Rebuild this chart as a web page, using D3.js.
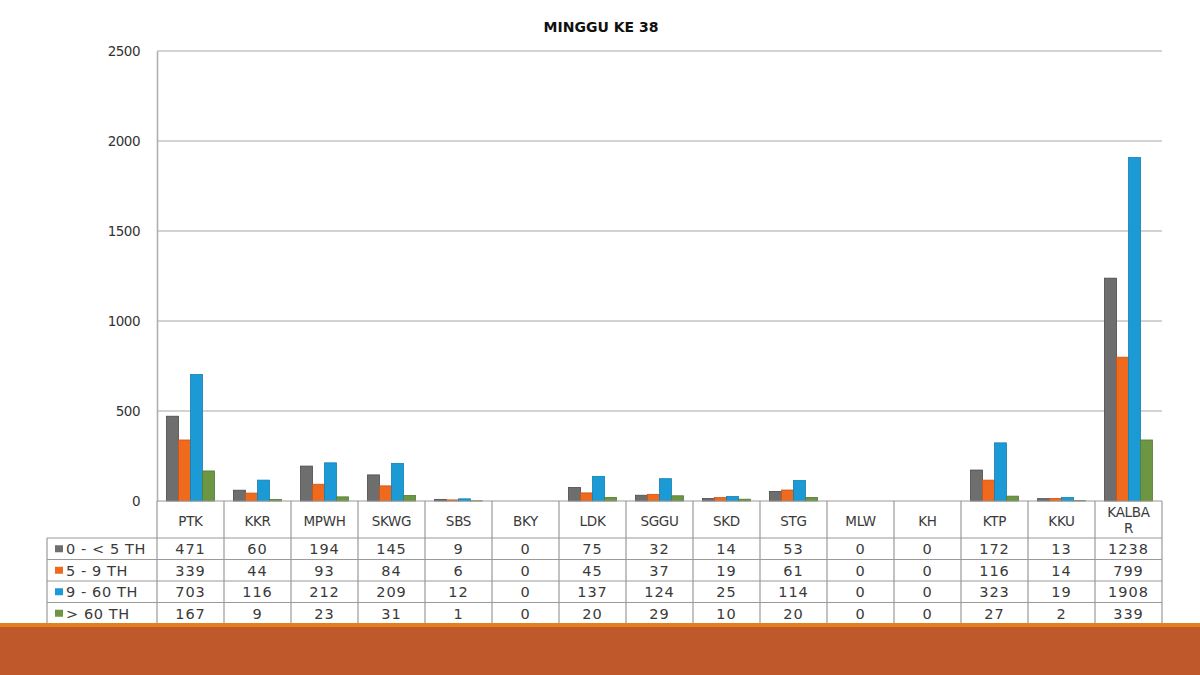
<!DOCTYPE html>
<html>
<head>
<meta charset="utf-8">
<script src="https://cdn.jsdelivr.net/npm/d3@7"></script>
<style>
  body { margin: 0; background: #fff; }
  svg { display: block; }
</style>
</head>
<body>
<svg id="chart"></svg>
<script>
// data
const categories = ["PTK", "KKR", "MPWH", "SKWG", "SBS", "BKY", "LDK", "SGGU", "SKD", "STG", "MLW", "KH", "KTP", "KKU", "KALBAR"];
const seriesNames = ["0 - < 5 TH", "5 - 9 TH", "9 - 60 TH", "> 60 TH"];
const age0to5  = [471, 60, 194, 145, 9, 0, 75, 32, 14, 53, 0, 0, 172, 13, 1238];
const age5to9  = [339, 44, 93, 84, 6, 0, 45, 37, 19, 61, 0, 0, 116, 14, 799];
const age9to60 = [703, 116, 212, 209, 12, 0, 137, 124, 25, 114, 0, 0, 323, 19, 1908];
const age60up  = [167, 9, 23, 31, 1, 0, 20, 29, 10, 20, 0, 0, 27, 2, 339];
const yTicks = [0, 500, 1000, 1500, 2000, 2500];

const seriesValues = [age0to5, age5to9, age9to60, age60up];
const colors = ["#6e6e6e", "#f06a1e", "#1b9ad6", "#6c9643"];
const strokes = ["#4a4a4a", "#c9551a", "#157fb0", "#557a33"];

const W = 1200, H = 675;
const plotLeft = 157, plotRight = 1162, plotTop = 51, plotBottom = 501;
const legendLeft = 47;
const catRowH = 37, rowH = 21.5;

const svg = d3.select("#chart").attr("width", W).attr("height", H);
const font = "'DejaVu Sans', sans-serif";

//scales
const x0 = d3.scaleBand().domain(categories).range([plotLeft, plotRight]).padding(0);
const x1 = d3.scaleBand().domain(seriesNames).range([0, x0.bandwidth()])
  .paddingInner(0).paddingOuter(0.79);
const y = d3.scaleLinear().domain([0, 2500]).range([plotBottom, plotTop]);

// title
svg.append("text")
  .attr("x", 601).attr("y", 32)
  .attr("text-anchor", "middle")
  .attr("font-family", font).attr("font-size", 14).attr("font-weight", "bold")
  .attr("fill", "#111")
  .text("MINGGU KE 38");

// gridlines
svg.append("g")
  .selectAll("line")
  .data(yTicks.filter(d => d > 0))
  .join("line")
  .attr("x1", plotLeft).attr("x2", plotRight)
  .attr("y1", d => y(d)).attr("y2", d => y(d))
  .attr("stroke", "#c4c4c4").attr("stroke-width", 1.6);

// y axis
const yAxis = svg.append("g")
  .attr("transform", `translate(${plotLeft},0)`)
  .call(d3.axisLeft(y).tickValues(yTicks).tickFormat(d3.format("d"))
    .tickSize(0).tickPadding(17));
yAxis.select(".domain").attr("stroke", "#b0b0b0").attr("stroke-width", 1.6);
yAxis.selectAll("text")
  .attr("font-family", font).attr("font-size", 13.5).attr("fill", "#333")
  .attr("letter-spacing", "-0.5px");

// bars
const groups = svg.append("g")
  .selectAll("g")
  .data(categories)
  .join("g")
  .attr("transform", d => `translate(${x0(d)},0)`);

groups.selectAll("rect")
  .data((c, i) => seriesNames.map((s, k) => ({s, k, v: seriesValues[k][i]})))
  .join("rect")
  .attr("x", d => x1(d.s))
  .attr("width", x1.bandwidth())
  .attr("y", d => y(d.v))
  .attr("height", d => y(0) - y(d.v))
  .attr("fill", d => colors[d.k])
  .attr("stroke", d => d.v > 0 ? strokes[d.k] : "none")
  .attr("stroke-width", 0.8);

// data table
const table = svg.append("g");
const tableBottom = plotBottom + catRowH + rowH * 4;
const lineColor = "#9a9a9a";

// horizontal lines
table.append("line")
  .attr("x1", plotLeft).attr("x2", plotRight).attr("y1", plotBottom).attr("y2", plotBottom)
  .attr("stroke", lineColor).attr("stroke-width", 1.2);
d3.range(5).forEach(r => {
  const yy = plotBottom + catRowH + rowH * r;
  table.append("line")
    .attr("x1", legendLeft).attr("x2", plotRight).attr("y1", yy).attr("y2", yy)
    .attr("stroke", lineColor).attr("stroke-width", 1.2);
});

// vertical lines
const colEdges = categories.map(c => x0(c)).concat([plotRight]);
table.selectAll("line.col")
  .data(colEdges)
  .join("line")
  .attr("class", "col")
  .attr("x1", d => d).attr("x2", d => d)
  .attr("y1", plotBottom).attr("y2", tableBottom)
  .attr("stroke", lineColor).attr("stroke-width", 1.2);
table.append("line")
  .attr("x1", legendLeft).attr("x2", legendLeft)
  .attr("y1", plotBottom + catRowH).attr("y2", tableBottom)
  .attr("stroke", lineColor).attr("stroke-width", 1.2);

// category labels
categories.forEach(c => {
  const cx = x0(c) + x0.bandwidth() / 2;
  const t = table.append("text")
    .attr("text-anchor", "middle")
    .attr("font-family", font).attr("font-size", 13.5).attr("fill", "#3a3a3a")
    .attr("letter-spacing", "-0.3px");
  if (c.length > 5) {
    t.append("tspan").attr("x", cx).attr("y", plotBottom + 16).text(c.slice(0, 5));
    t.append("tspan").attr("x", cx).attr("y", plotBottom + 32).text(c.slice(5));
  } else {
    t.attr("x", cx).attr("y", plotBottom + 25).text(c);
  }
});

// legend rows and values
seriesNames.forEach((s, k) => {
  const rowTop = plotBottom + catRowH + rowH * k;
  const mid = rowTop + rowH / 2;
  table.append("rect")
    .attr("x", legendLeft + 8).attr("y", mid - 3.5)
    .attr("width", 8).attr("height", 7)
    .attr("fill", colors[k]);
  table.append("text")
    .attr("x", legendLeft + 19).attr("y", mid + 5.5)
    .attr("font-family", font).attr("font-size", 14.5).attr("fill", "#3a3a3a")
    .attr("letter-spacing", "0.6px")
    .text(s);
  categories.forEach((c, i) => {
    table.append("text")
      .attr("x", x0(c) + x0.bandwidth() / 2).attr("y", mid + 5.5)
      .attr("text-anchor", "middle")
      .attr("font-family", font).attr("font-size", 14.5).attr("fill", "#3a3a3a")
      .attr("letter-spacing", "1px")
      .text(seriesValues[k][i]);
  });
});

// bottom band
svg.append("rect")
  .attr("x", 0).attr("y", 623).attr("width", W).attr("height", H - 623)
  .attr("fill", "#bf582b");
svg.append("rect")
  .attr("x", 0).attr("y", 623).attr("width", W).attr("height", 4)
  .attr("fill", "#e2801f");
</script>
</body>
</html>
